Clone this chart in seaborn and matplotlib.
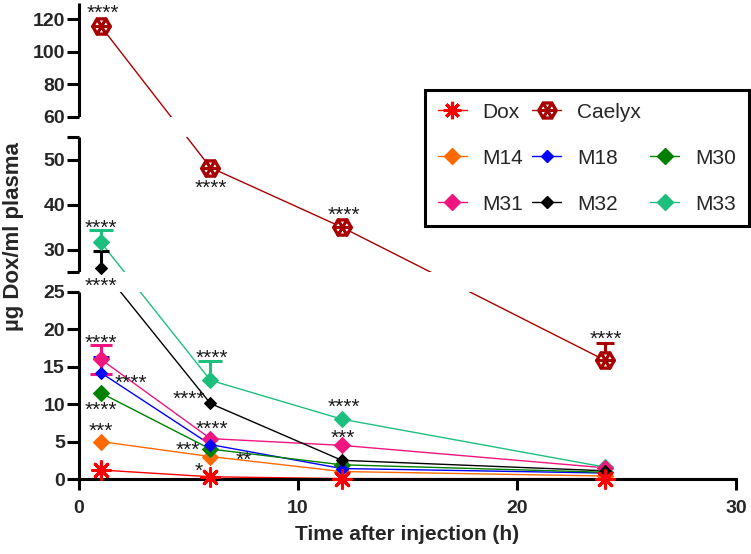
import numpy as np
import pandas as pd
import matplotlib
matplotlib.use("Agg")
import matplotlib.pyplot as plt
import seaborn as sns
from matplotlib.lines import Line2D
from matplotlib.patches import Rectangle

# ---------------- data ----------------
times = [1, 6, 12, 24]
series_names = ["Dox", "Caelyx", "M14", "M18", "M30", "M31", "M32", "M33"]
dox = [1.2, 0.3, 0.05, 0.05]
caelyx = [115.5, 48.3, 35.0, 15.9]
m14 = [5.0, 3.0, 1.0, 0.4]
m18 = [14.2, 4.6, 1.4, 0.8]
m30 = [11.5, 4.0, 1.9, 0.9]
m31 = [16.0, 5.4, 4.5, 1.5]
m32 = [26.0, 10.1, 2.5, 1.1]
m33 = [31.6, 13.2, 8.0, 1.6]
values = {"Dox": dox, "Caelyx": caelyx, "M14": m14, "M18": m18,
          "M30": m30, "M31": m31, "M32": m32, "M33": m33}

# error bars (upper / lower SD visible in the figure)
err_up = {"Caelyx": [0, 0, 0, 2.3], "M18": [2.1, 0, 0, 0], "M31": [1.9, 0, 0, 0],
          "M32": [3.6, 0, 0, 0], "M33": [2.7, 2.6, 0, 0]}
err_low = {"M31": [1.9, 0, 0, 0]}

# significance labels
sig_series = ["Caelyx", "Caelyx", "Caelyx", "Caelyx", "M33", "M32", "M31", "M18", "M30",
              "M14", "M33", "M32", "M31", "M30", "M14", "Dox", "M33", "M31"]
sig_time = [0, 1, 2, 3, 0, 0, 0, 0, 0, 0, 1, 1, 1, 1, 1, 1, 2, 2]
sig_text = ["****", "****", "****", "****", "****", "****", "****", "****", "****",
            "***", "****", "****", "****", "***", "**", "*", "****", "***"]
# label offsets (pixels, relative to the point)
sig_dx = [2, 0, 2, 1, 0, 0, 0, 30, 0, 0, 1, -22, 1, -23, 33, -12, 2, 1]
sig_dy = [17, -17, 15, 24, 18, -15.5, 19, -7, -14, 13.5, 25, 7.5, 12.5, 2, 0, 9, 15, 11]

# ---------------- style ----------------
colors = {"Dox": "#FF0000", "Caelyx": "#A80000", "M14": "#FF6A00", "M18": "#0000FF",
          "M30": "#008000", "M31": "#F0157F", "M32": "#000000", "M33": "#1DBF7E"}

sns.set_style("ticks")
plt.rcParams["font.family"] = ["Liberation Sans", "DejaVu Sans"]

fig = plt.figure(figsize=(7.51, 5.54), dpi=100)
ax = fig.add_axes([79 / 751, 1 - 479 / 554, 657 / 751, (479 - 2.7) / 554])

df = pd.DataFrame({
    "time": times * len(series_names),
    "value": np.concatenate([values[n] for n in series_names]),
    "series": np.repeat(series_names, len(times)),
})

sns.lineplot(data=df, x="time", y="value", hue="series", hue_order=series_names,
             palette=colors, legend=False, ax=ax, lw=1.0, estimator=None, zorder=2)

# markers
marker_spec = {
    "M33": dict(marker="D", s=66),
    "M14": dict(marker="D", s=66),
    "M30": dict(marker="D", s=66),
    "M31": dict(marker="D", s=66),
    "M18": dict(marker="D", s=37),
    "M32": dict(marker="D", s=37),
}
z = 3.0
for name in ["M33", "M14", "M30", "M31", "M18", "M32"]:
    sub = df[df.series == name]
    sns.scatterplot(data=sub, x="time", y="value", color=colors[name],
                    edgecolor=colors[name], linewidth=0.8, ax=ax, legend=False,
                    clip_on=False, zorder=z, **marker_spec[name])
    z += 0.1
sub = df[df.series == "Dox"]
sns.scatterplot(data=sub, x="time", y="value", marker=(8, 2, 0), s=160,
                color=colors["Dox"], linewidth=2.2, ax=ax, legend=False,
                clip_on=False, zorder=4)
sub = df[df.series == "Caelyx"]
sns.scatterplot(data=sub, x="time", y="value", marker="H", s=160, color="white",
                edgecolor=colors["Caelyx"], linewidth=2.4, ax=ax, legend=False,
                clip_on=False, zorder=4.1)
sns.scatterplot(data=sub, x="time", y="value", marker=(6, 2, 90), s=160,
                color=colors["Caelyx"], linewidth=2.0, ax=ax, legend=False,
                clip_on=False, zorder=4.2)

# error bars
capsizes = {"Caelyx": 6.5, "M18": 6.0, "M31": 8.0, "M32": 6.0, "M33": 8.3}
for name, up in err_up.items():
    low = err_low.get(name, [0] * len(times))
    mask = [(u > 0 or l > 0) for u, l in zip(up, low)]
    xs = [t for t, m in zip(times, mask) if m]
    ys = [v for v, m in zip(values[name], mask) if m]
    ups = [u for u, m in zip(up, mask) if m]
    lows = [l for l, m in zip(low, mask) if m]
    cont = ax.errorbar(xs, ys, yerr=[lows, ups], fmt="none", ecolor=colors[name],
                       elinewidth=2.2, capsize=capsizes[name], capthick=2.2,
                       zorder=2.8, clip_on=False)
    if all(l == 0 for l in lows):
        cont[1][0].set_visible(False)

# ---------------- broken y axis via piecewise-linear scale ----------------
vk = np.array([0, 25, 25.001, 55, 60, 130])
sk = np.array([0, 187, 207, 341.5, 362, 476.3])


def fwd(v):
    return np.interp(np.asarray(v, dtype=float), vk, sk)


def inv(s):
    return np.interp(np.asarray(s, dtype=float), sk, vk)


ax.set_yscale("function", functions=(fwd, inv))
ax.set_ylim(0, 130)
ax.set_xlim(0, 30)

yt = [0, 5, 10, 15, 20, 25, 25.001, 30, 40, 50, 55, 60, 80, 100, 120]
yl = ["0", "5", "10", "15", "20", "25", "", "30", "40", "50", "", "60", "80", "100", "120"]
ax.set_yticks(yt, yl, fontsize=14, fontweight="bold")
ax.set_xticks([0, 10, 20, 30], ["0", "10", "20", "30"], fontsize=14, fontweight="bold")
ax.minorticks_off()
ax.tick_params(axis="y", length=8.6, width=2.2, pad=1.5, color="black")
ax.tick_params(axis="x", length=8, width=2.2, pad=7, color="black")

ax.spines["left"].set_visible(False)
ax.spines["top"].set_visible(False)
ax.spines["right"].set_visible(False)
ax.spines["bottom"].set_linewidth(2.2)
ax.spines["bottom"].set_color("black")
ax.spines["bottom"].set_zorder(2.5)

ytr = ax.get_yaxis_transform()
for lo, hi in [(0, 25), (25.001, 55), (60, 130)]:
    ax.plot([0, 0], [lo, hi], transform=ytr, color="black", lw=2.2,
            solid_capstyle="butt", clip_on=False, zorder=2.5)
for lo, hi in [(25, 25.001), (55, 60)]:
    ax.add_patch(Rectangle((0.002, lo), 1.0, hi - lo, transform=ytr,
                           facecolor="white", edgecolor="none", zorder=2.6,
                           clip_on=False))

ax.set_xlabel("Time after injection (h)", fontsize=15, fontweight="bold", labelpad=6)
ax.set_ylabel("µg Dox/ml plasma", fontsize=16, fontweight="bold")
ax.yaxis.set_label_coords(-55 / 657, 0.51)

# significance labels
for s, ti, txt, dx, dy in zip(sig_series, sig_time, sig_text, sig_dx, sig_dy):
    ax.annotate(txt, xy=(times[ti], values[s][ti]), xytext=(dx, dy - 9),
                textcoords="offset pixels", ha="center", va="baseline",
                fontsize=15, color="#1a1a1a", annotation_clip=False, zorder=5)

# ---------------- legend ----------------
def dh(name, ms):
    return Line2D([0], [0], color=colors[name], lw=1.0, marker="D", markersize=ms,
                  markerfacecolor=colors[name], markeredgecolor=colors[name])


h_dox = Line2D([0], [0], color=colors["Dox"], lw=1.0, marker=(8, 2, 0),
               markersize=12.5, markeredgewidth=2.2)
h_cae = (Line2D([0], [0], color=colors["Caelyx"], lw=1.0, marker="H", markersize=12.5,
                markerfacecolor="white", markeredgecolor=colors["Caelyx"],
                markeredgewidth=2.4),
         Line2D([0], [0], color=colors["Caelyx"], lw=0, marker=(6, 2, 90),
                markersize=12.5, markeredgewidth=2.0))
blank = Line2D([], [], alpha=0)
handles = [h_dox, dh("M14", 8.1), dh("M31", 8.1),
           h_cae, dh("M18", 6.1), dh("M32", 6.1),
           blank, dh("M30", 8.1), dh("M33", 8.1)]
labels = ["Dox", "M14", "M31", "Caelyx", "M18", "M32", "", "M30", "M33"]
leg = fig.legend(handles, labels, ncol=3, loc="upper left",
                 bbox_to_anchor=(425 / 751, 1 - 90 / 554), borderaxespad=0,
                 frameon=True, fancybox=False, edgecolor="black", framealpha=1,
                 fontsize=15, handlelength=1.4, handletextpad=0.77,
                 columnspacing=0.42, labelspacing=1.3, borderpad=0.6)
leg.get_frame().set_linewidth(2.2)

fig.savefig("out.png", dpi=100)
